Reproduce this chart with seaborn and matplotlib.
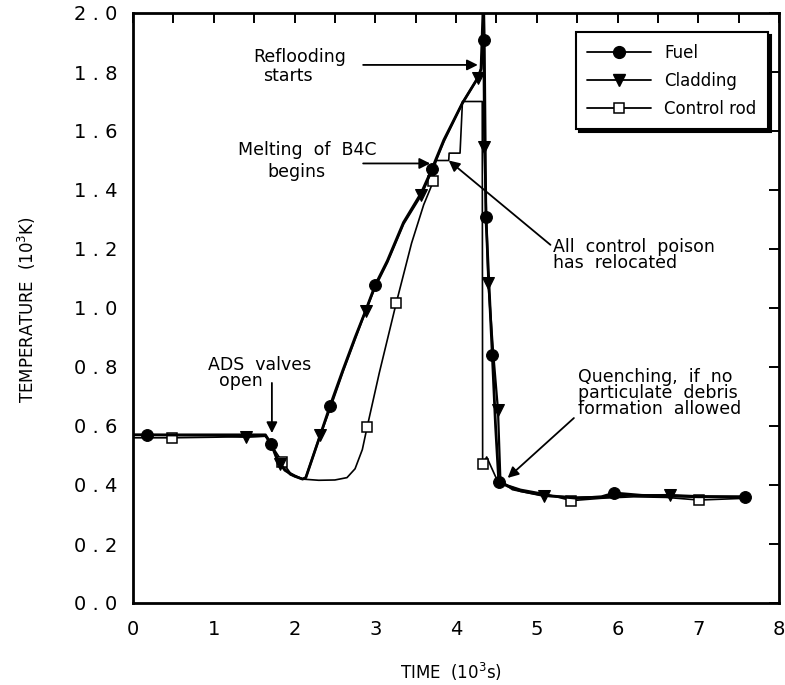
import numpy as np
import pandas as pd
import seaborn as sns
import matplotlib
matplotlib.use("Agg")
import matplotlib.pyplot as plt
from matplotlib.lines import Line2D
from matplotlib.ticker import MultipleLocator, FuncFormatter

# ---- data (time in 10^3 s, temperature in 10^3 K) ----
fuel_t = [0.0, 0.17, 1.0, 1.64, 1.71, 1.78, 1.88, 2.0, 2.1, 2.14, 2.32, 2.44, 2.6,
          2.75, 2.88, 3.0, 3.15, 3.35, 3.57, 3.70, 3.85, 4.08, 4.27, 4.31, 4.34,
          4.35, 4.37, 4.41, 4.45, 4.49, 4.53, 4.65, 4.8, 5.1, 5.5, 5.8, 5.96, 6.3,
          7.0, 7.58]
fuel_T = [0.57, 0.57, 0.57, 0.57, 0.54, 0.49, 0.45, 0.43, 0.42, 0.425, 0.57, 0.668,
          0.79, 0.90, 0.99, 1.078, 1.16, 1.29, 1.39, 1.47, 1.57, 1.695, 1.78, 1.81,
          2.05, 1.91, 1.31, 1.07, 0.84, 0.60, 0.41, 0.395, 0.38, 0.365, 0.355, 0.36,
          0.373, 0.365, 0.36, 0.36]
fuel_marks = [0.17, 1.71, 2.44, 3.0, 3.70, 4.35, 4.37, 4.45, 4.53, 5.96, 7.58]

clad_t = [0.0, 1.0, 1.40, 1.64, 1.71, 1.82, 1.95, 2.1, 2.14, 2.32, 2.44, 2.6, 2.75,
          2.88, 3.0, 3.15, 3.35, 3.57, 3.70, 3.85, 4.08, 4.27, 4.31, 4.34, 4.35,
          4.40, 4.46, 4.52, 4.55, 4.7, 5.09, 5.5, 5.9, 6.2, 6.65, 7.0, 7.58]
clad_T = [0.57, 0.568, 0.563, 0.567, 0.54, 0.47, 0.435, 0.42, 0.425, 0.57, 0.66,
          0.785, 0.895, 0.99, 1.072, 1.155, 1.285, 1.383, 1.465, 1.565, 1.695, 1.78,
          1.81, 1.93, 1.545, 1.085, 0.85, 0.654, 0.415, 0.385, 0.363, 0.358, 0.36,
          0.365, 0.366, 0.362, 0.36]
clad_marks = [1.40, 1.82, 2.32, 2.88, 3.57, 4.27, 4.35, 4.40, 4.52, 5.09, 6.65]

rod_t = [0.0, 0.48, 1.0, 1.64, 1.75, 1.85, 1.95, 2.1, 2.3, 2.5, 2.65, 2.75, 2.84,
         2.90, 3.05, 3.26, 3.45, 3.60, 3.72, 3.75, 3.91, 3.915, 4.05, 4.08, 4.325,
         4.33, 4.38, 4.52, 4.8, 5.1, 5.43, 5.8, 6.2, 6.6, 7.01, 7.58]
rod_T = [0.56, 0.56, 0.562, 0.565, 0.52, 0.478, 0.44, 0.42, 0.416, 0.417, 0.425,
         0.455, 0.52, 0.597, 0.78, 1.017, 1.22, 1.35, 1.43, 1.50, 1.50, 1.525, 1.525,
         1.70, 1.70, 0.47, 0.495, 0.41, 0.385, 0.37, 0.347, 0.355, 0.36, 0.358,
         0.349, 0.355]
rod_marks = [0.48, 1.85, 2.90, 3.26, 3.72, 4.33, 5.43, 7.01]

series_names = ["Fuel", "Cladding", "Control rod"]
x_ticks = [0, 1, 2, 3, 4, 5, 6, 7, 8]
y_ticks = [0.0, 0.2, 0.4, 0.6, 0.8, 1.0, 1.2, 1.4, 1.6, 1.8, 2.0]

# ---- style ----
sns.set_style("white")
plt.rcParams["font.family"] = ["DejaVu Sans"]
plt.rcParams["mathtext.fontset"] = "dejavusans"
plt.rcParams["text.color"] = "black"
plt.rcParams["axes.labelcolor"] = "black"
plt.rcParams["xtick.color"] = "black"
plt.rcParams["ytick.color"] = "black"

fig = plt.figure(figsize=(7.85, 6.85), dpi=100)
ax = fig.add_axes([133 / 785, 1 - 603 / 685, 646 / 785, 590 / 685])

styles = {
    "Fuel": dict(marker="o", markersize=8.5, lw=2.0, mfc="black", mec="black", zorder=5),
    "Cladding": dict(marker="v", markersize=8, lw=1.6, mfc="black", mec="black", zorder=4),
    "Control rod": dict(marker="s", markersize=7.5, lw=1.2, mfc="white", mec="black",
                        mew=1.1, zorder=3),
}
series = {
    "Fuel": (fuel_t, fuel_T, fuel_marks),
    "Cladding": (clad_t, clad_T, clad_marks),
    "Control rod": (rod_t, rod_T, rod_marks),
}

for name in series_names:
    t, T, marks = series[name]
    df = pd.DataFrame({"time": t, "temp": T})
    idx = [t.index(m) for m in marks]
    sns.lineplot(data=df, x="time", y="temp", ax=ax, sort=False, estimator=None,
                 color="black", markevery=idx, legend=False, **styles[name])

ax.set_xlim(0, 8)
ax.set_ylim(0, 2.0)
ax.xaxis.set_minor_locator(MultipleLocator(0.5))
ax.set_xticks(x_ticks)
ax.set_yticks(y_ticks)
ax.yaxis.set_major_formatter(FuncFormatter(lambda v, p: f"{v:.1f}".replace(".", " . ")))
ax.tick_params(axis="both", which="both", direction="in", top=True, right=True,
               length=7, width=1.4, color="black", labelcolor="black", labelsize=14)
ax.tick_params(axis="x", which="major", pad=12)
ax.tick_params(axis="y", which="major", pad=11)
for s in ax.spines.values():
    s.set_linewidth(2.0)
    s.set_color("black")

ax.set_xlabel("TIME  (10$^3$s)", fontsize=12, color="black")
ax.set_ylabel("TEMPERATURE  (10$^3$K)", fontsize=12, color="black")
ax.xaxis.set_label_coords(0.492, -0.098)
ax.yaxis.set_label_coords(-0.147, 0.497)

# ---- annotations ----
arrow = dict(arrowstyle="-|>", color="black", lw=1.3, mutation_scale=16,
             shrinkA=0, shrinkB=0)
txt = dict(fontsize=12.5, color="black", linespacing=0.85)

ax.text(2.07, 1.85, "Reflooding", ha="center", va="center", **txt)
ax.text(1.92, 1.787, "starts", ha="center", va="center", **txt)
ax.annotate("", xy=(4.27, 1.824), xytext=(2.85, 1.824), arrowprops=arrow)

ax.text(2.16, 1.537, "Melting  of  B4C", ha="center", va="center", **txt)
ax.text(2.03, 1.462, "begins", ha="center", va="center", **txt)
ax.annotate("", xy=(3.68, 1.49), xytext=(2.85, 1.49), arrowprops=arrow)

ax.text(5.20, 1.18, "All  control  poison\nhas  relocated", ha="left", va="center", **txt)
ax.annotate("", xy=(3.91, 1.50), xytext=(5.17, 1.214), arrowprops=arrow)

ax.text(0.93, 0.78, "ADS  valves\n  open", ha="left", va="center", **txt)
ax.annotate("", xy=(1.72, 0.576), xytext=(1.72, 0.746), arrowprops=arrow)

ax.text(5.51, 0.713, "Quenching,  if  no\nparticulate  debris\nformation  allowed",
        ha="left", va="center", **txt)
ax.annotate("", xy=(4.64, 0.424), xytext=(5.46, 0.627), arrowprops=arrow)

# ---- legend ----
handles = []
for name in series_names:
    st = styles[name]
    handles.append(Line2D([], [], color="black", lw=1.3, marker=st["marker"],
                          markersize=st["markersize"], mfc=st["mfc"], mec=st["mec"],
                          mew=st.get("mew", 1.0)))
leg = ax.legend(handles, series_names, loc="upper right",
                bbox_to_anchor=(768 / 785, 1 - 32 / 685), bbox_transform=fig.transFigure,
                borderaxespad=0, fontsize=12, handlelength=3.8, handletextpad=0.8,
                labelspacing=0.6, borderpad=0.7, fancybox=False, numpoints=1,
                shadow={"color": "black", "alpha": 1.0}, framealpha=1)
leg.get_frame().set_edgecolor("black")
leg.get_frame().set_linewidth(1.5)
for t in leg.get_texts():
    t.set_color("black")

fig.savefig("out.png", dpi=100)
